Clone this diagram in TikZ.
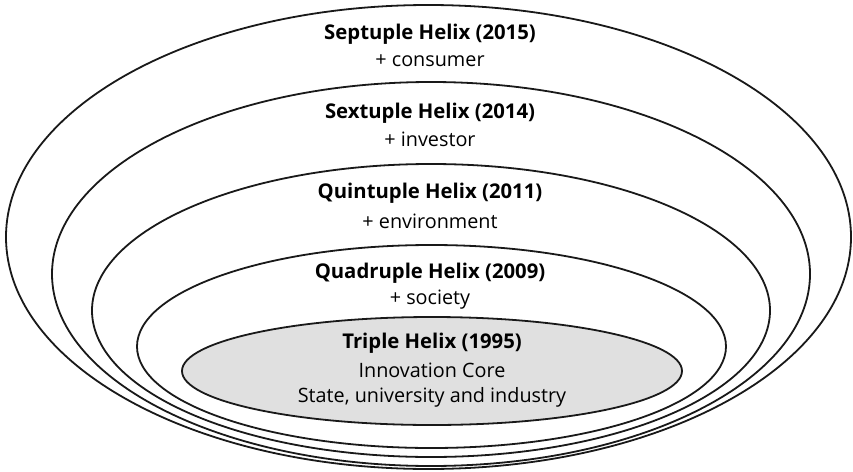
\documentclass[tikz,border=0pt]{standalone}
\usepackage{fontspec}
\setmainfont{Open Sans}
\begin{document}
\begin{tikzpicture}[x=1pt,y=-1pt,
  ring/.style={draw=black!90, line width=1.8pt, fill=white},
  core/.style={draw=black!90, line width=1.8pt, fill=corefill},
  title/.style={font=\fontsize{20.3}{24}\selectfont\bfseries, inner sep=0pt, anchor=center},
  sub/.style={font=\fontsize{19.8}{24}\selectfont, inner sep=0pt, anchor=center}]
\definecolor{corefill}{RGB}{224,224,224}
\useasboundingbox (0,0) rectangle (853,471);
\fill[white] (0,0) rectangle (853,471);
\draw[ring] (428.5,237) ellipse [x radius=422.5, y radius=232];
\draw[ring] (431,274) ellipse [x radius=379, y radius=192];
\draw[ring] (431,310.5) ellipse [x radius=339, y radius=146.5];
\draw[ring] (431.5,346.5) ellipse [x radius=294.5, y radius=101.5];
\draw[core] (432,371) ellipse [x radius=250, y radius=54];
\node[title] (t7) at (430,34) {Septuple Helix (2015)};
\node[sub] (s7) at (430,61) {+ consumer};
\node[title] (t6) at (430,113) {Sextuple Helix (2014)};
\node[sub] (s6) at (430,139) {+ investor};
\node[title] (t5) at (430,193) {Quintuple Helix (2011)};
\node[sub] (s5) at (430,221) {+ environment};
\node[title] (t4) at (430,273) {Quadruple Helix (2009)};
\node[sub] (s4) at (430,300) {+ society};
\node[title] (t3) at (432,343) {Triple Helix (1995)};
\node[sub] (s3a) at (432,370) {Innovation Core};
\node[sub] (s3b) at (432,397) {State, university and industry};
\end{tikzpicture}
\end{document}
